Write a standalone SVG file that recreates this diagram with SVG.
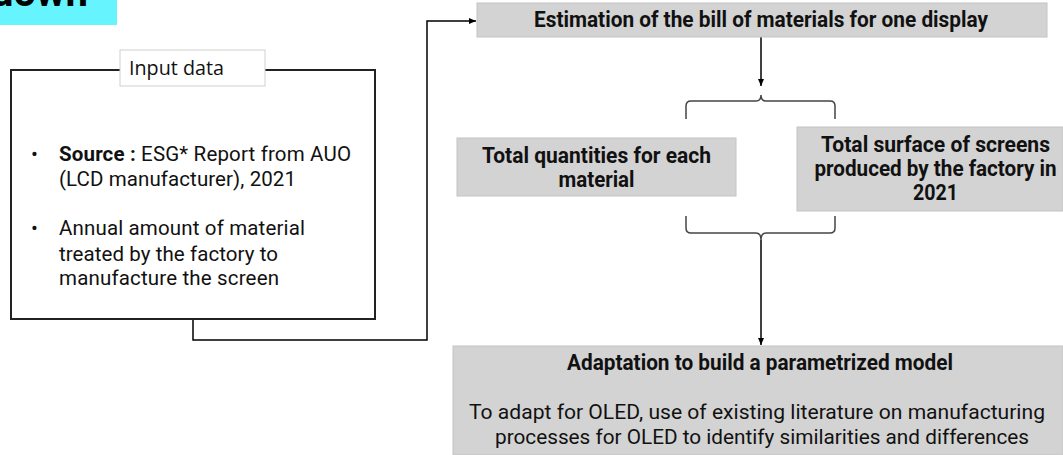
<svg xmlns="http://www.w3.org/2000/svg" width="1063" height="455" viewBox="0 0 1063 455">
<defs>
<marker id="ah" markerWidth="8" markerHeight="8" refX="7" refY="4" orient="auto" markerUnits="userSpaceOnUse">
<path d="M0,1 L7,4 L0,7 Z" fill="#000"/>
</marker>
<style>
.box{fill:#d3d3d3;stroke:#c4c4c4;stroke-width:1}
.bt{font-family:Roboto,"Liberation Sans",sans-serif;font-weight:700;font-size:22px;fill:#111;text-anchor:middle}
.rt{font-family:Roboto,"Liberation Sans",sans-serif;font-weight:400;font-size:19.5px;fill:#111;text-anchor:middle}
.lt{font-family:Roboto,"Liberation Sans",sans-serif;font-size:20.5px;fill:#111}
.conn{fill:none;stroke:#000;stroke-width:1.5}
.brace{fill:none;stroke:#444;stroke-width:1.5}
</style>
</defs>
<rect width="1063" height="455" fill="#fff"/>

<g id="title">
<rect x="0" y="0" width="117" height="25" fill="#66f4ff"/>
<text x="-9" y="6" font-family="Roboto,'Liberation Sans',sans-serif" font-weight="700" font-size="40" fill="#000">down</text>
</g>

<g id="connectors">
<path class="conn" d="M193,319 V340 H427 V21 H476" marker-end="url(#ah)"/>
<path class="conn" d="M761,37 V86" marker-end="url(#ah)"/>
<path class="conn" d="M761,240 V345" marker-end="url(#ah)"/>
<path class="brace" d="M686,119 V106 Q686,101 691,101 H756 Q761,101 761,95 Q761,101 766,101 H830 Q835,101 835,106 V119"/>
<path class="brace" d="M686,216 V228 Q686,233 691,233 H756 Q761,233 761,240 Q761,233 766,233 H830 Q835,233 835,228 V216"/>
</g>

<g id="input-data">
<rect x="11" y="70" width="364" height="249" fill="none" stroke="#222" stroke-width="2"/>
<rect x="120" y="50" width="145" height="36" fill="#fff" stroke="#d0d0d0" stroke-width="1"/>
<text x="129" y="75" font-family="'Open Sans','Noto Sans',sans-serif" font-size="20" fill="#111" textLength="95" lengthAdjust="spacingAndGlyphs">Input data</text>
<text class="lt" x="31" y="161" font-size="22">•</text>
<text class="lt" x="59" y="161" textLength="292"><tspan font-weight="700">Source :</tspan> ESG* Report from AUO</text>
<text class="lt" x="59" y="186" textLength="237">(LCD manufacturer), 2021</text>
<text class="lt" x="31" y="235" font-size="22">•</text>
<text class="lt" x="59" y="235" textLength="246">Annual amount of material</text>
<text class="lt" x="59" y="261" textLength="219">treated by the factory to</text>
<text class="lt" x="59" y="285" textLength="220">manufacture the screen</text>
</g>

<g id="bom">
<rect class="box" x="477" y="3" width="570" height="34"/>
<text class="bt" x="761" y="27" textLength="454" lengthAdjust="spacingAndGlyphs">Estimation of the bill of materials for one display</text>
</g>

<g id="quantities">
<rect class="box" x="457" y="138" width="279" height="58"/>
<text class="bt" x="596.5" y="163" textLength="229" lengthAdjust="spacingAndGlyphs">Total quantities for each</text>
<text class="bt" x="596.5" y="187" textLength="76" lengthAdjust="spacingAndGlyphs">material</text>
</g>

<g id="surface">
<rect class="box" x="797" y="127" width="266" height="84"/>
<text class="bt" x="935.5" y="152" font-size="19.5" textLength="229" lengthAdjust="spacingAndGlyphs">Total surface of screens</text>
<text class="bt" x="935.5" y="176" font-size="19.5" textLength="242" lengthAdjust="spacingAndGlyphs">produced by the factory in</text>
<text class="bt" x="935.5" y="200" font-size="19.5" textLength="45" lengthAdjust="spacingAndGlyphs">2021</text>
</g>

<g id="adaptation">
<rect class="box" x="453" y="346" width="610" height="109"/>
<text class="bt" x="760" y="370" font-size="21" textLength="386" lengthAdjust="spacingAndGlyphs">Adaptation to build a parametrized model</text>
<text class="rt" x="757" y="419" textLength="576" lengthAdjust="spacingAndGlyphs">To adapt for OLED, use of existing literature on manufacturing</text>
<text class="rt" x="762" y="444" textLength="534" lengthAdjust="spacingAndGlyphs">processes for OLED to identify similarities and differences</text>
</g>
</svg>
